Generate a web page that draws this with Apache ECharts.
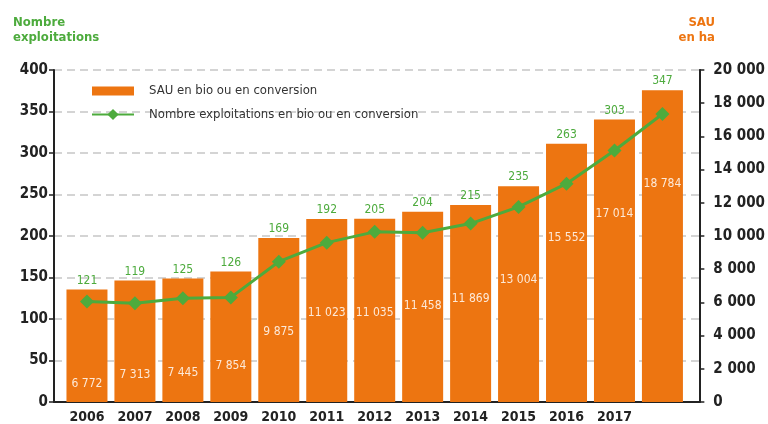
<!DOCTYPE html>
<html lang="fr">
<head>
<meta charset="utf-8">
<title>SAU et exploitations bio</title>
<script src="https://cdn.jsdelivr.net/npm/echarts@6/dist/echarts.min.js"></script>
<style>
  html, body { margin: 0; padding: 0; background: #fff; }
  #main { width: 768px; height: 424px; }
</style>
</head>
<body>
<div id="main"></div>
<script>
// données
var years = ['2006', '2007', '2008', '2009', '2010', '2011', '2012', '2013', '2014', '2015', '2016', '2017', ''];
var sau = [6772, 7313, 7445, 7854, 9875, 11023, 11035, 11458, 11869, 13004, 15552, 17014, 18784];
var nbExpl = [121, 119, 125, 126, 169, 192, 205, 204, 215, 235, 263, 303, 347];
var labelled = [0, 1, 2, 3, 4, 5, 6, 7, 8, 9, 10, 11];

var ORANGE = '#ED7511';
var GREEN = '#4DAB3D';
var FONT = "'DejaVu Sans Condensed', 'Liberation Sans Narrow', sans-serif";

function sep(v) {
	return String(v).replace(/\B(?=(\d{3})+(?!\d))/g, ' ');
}

var sauData = sau.map(function (v, i) { return [i, v]; });
var lineData = nbExpl.map(function (v, i) { return [i, v]; });

var titleFont = { fontSize: 13, fontWeight: 'bold', lineHeight: 15, fontFamily: FONT };

var chart = echarts.init(document.getElementById('main'));
chart.setOption({
	animation: false,
	textStyle: { fontFamily: FONT },
	title: [
		{
			text: 'Nombre\nexploitations',
			left: 8, top: 10,
			textStyle: Object.assign({ color: GREEN }, titleFont)
		},
		{
			text: 'SAU',
			right: 48, top: 10,
			textStyle: Object.assign({ color: ORANGE }, titleFont)
		},
		{
			text: 'en ha',
			right: 48, top: 25,
			textStyle: Object.assign({ color: ORANGE }, titleFont)
		}
	],
	legend: {
		orient: 'vertical',
		left: 86, top: 79,
		itemWidth: 42, itemHeight: 14,
		itemGap: 10,
		data: [
			{ name: 'SAU en bio ou en conversion', icon: 'path://M0,0M42,14M0,2.5L42,2.5L42,11.5L0,11.5Z' },
			{ name: 'Nombre exploitations en bio ou en conversion' }
		],
		textStyle: { color: '#333', fontSize: 13, padding: [0, 0, 0, 10], fontFamily: FONT },
		selectedMode: false
	},
	grid: { left: 54, right: 68, top: 70, bottom: 22, containLabel: false },
	xAxis: {
		type: 'value',
		min: -0.6875,
		max: 12.77,
		splitLine: { show: false },
		axisLine: { show: true, lineStyle: { color: '#222', width: 2 } },
		axisTick: { show: false },
		axisLabel: {
			customValues: labelled,
			formatter: function (v) { return years[Math.round(v)]; },
			color: '#222', fontSize: 14, fontWeight: 'bold', margin: 8
		}
	},
	yAxis: [
		{
			type: 'value', min: 0, max: 400, interval: 50,
			axisLine: { show: true, onZero: false, lineStyle: { color: '#222', width: 2 } },
			axisTick: { show: true, length: 5, lineStyle: { color: '#222', width: 1.5 } },
			axisLabel: { color: '#222', fontSize: 15, fontWeight: 'bold', margin: 6 },
			splitLine: { show: true, lineStyle: { color: '#d4d4d4', width: 2, type: [8, 5] } }
		},
		{
			type: 'value', min: 0, max: 20000, interval: 2000,
			axisLine: { show: true, onZero: false, lineStyle: { color: '#222', width: 2 } },
			axisTick: { show: true, length: 5, lineStyle: { color: '#222', width: 1.5 } },
			axisLabel: { color: '#222', fontSize: 15, fontWeight: 'bold', margin: 14, formatter: sep },
			splitLine: { show: false }
		}
	],
	series: [
		{
			name: 'SAU en bio ou en conversion',
			type: 'bar',
			yAxisIndex: 1,
			barWidth: 41,
			data: sauData,
			itemStyle: { color: ORANGE },
			label: {
				show: true, position: 'insideTop', distance: 88,
				color: '#fde9d8', fontSize: 12,
				formatter: function (p) { return sep(p.value[1]); }
			},
			z: 2
		},
		{
			name: 'nb',
			type: 'bar',
			yAxisIndex: 1,
			barWidth: 41,
			barGap: '-100%',
			data: sauData,
			itemStyle: { color: 'rgba(0,0,0,0)' },
			label: {
				show: true, position: 'top', distance: 3,
				color: GREEN, fontSize: 12,
				formatter: function (p) { return nbExpl[p.dataIndex]; }
			},
			silent: true,
			z: 1
		},
		{
			name: 'Nombre exploitations en bio ou en conversion',
			type: 'line',
			yAxisIndex: 0,
			data: lineData,
			symbol: 'diamond',
			symbolSize: 14,
			itemStyle: { color: GREEN },
			lineStyle: { color: GREEN, width: 3 },
			z: 5
		}
	]
});
</script>
</body>
</html>
